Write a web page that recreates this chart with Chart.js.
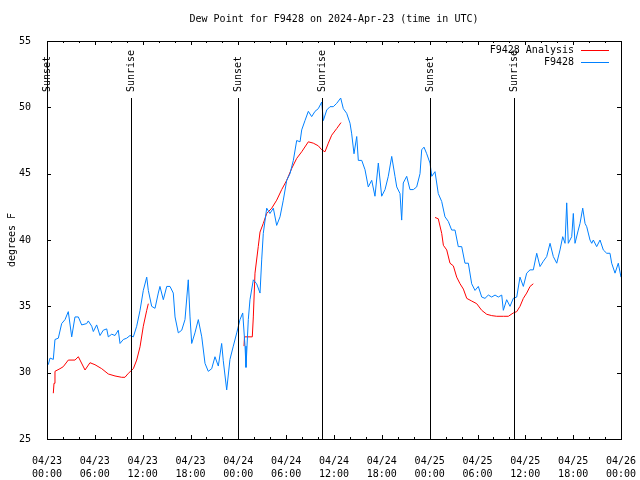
<!DOCTYPE html>
<html>
<head>
<meta charset="utf-8">
<title>Dew Point for F9428</title>
<script src="https://cdn.jsdelivr.net/npm/chart.js@4.4.1/dist/chart.umd.min.js"></script>
<style>
  html, body { margin: 0; padding: 0; background: #fff; }
  canvas { display: block; }
</style>
</head>
<body>
<canvas id="dewChart" width="640" height="480"></canvas>
<script>
// hours since 04/23 00:00 UTC
const obsHours = [
    0.16, 0.38, 0.79, 1.0, 1.42, 1.84, 2.26, 2.67, 3.1, 3.51,
    3.93, 4.35, 4.98, 5.18, 5.61, 5.81, 6.23, 6.65, 7.06, 7.49,
    7.69, 8.12, 8.53, 8.94, 9.16, 9.57, 10.0, 10.41, 10.83, 11.25,
    11.67, 12.08, 12.51, 12.71, 13.13, 13.55, 13.96, 14.17, 14.59, 15.02,
    15.43, 15.84, 16.06, 16.47, 16.9, 17.31, 17.72, 17.94, 18.15, 18.56,
    18.98, 19.41, 19.82, 20.23, 20.66, 21.07, 21.49, 21.91, 22.11, 22.54,
    22.95, 23.37, 23.8, 24.21, 24.55, 24.84, 24.96, 25.25, 25.46, 25.88,
    26.3, 26.72, 26.93, 27.13, 27.56, 27.97, 28.39, 28.81, 29.23, 29.64,
    30.07, 30.48, 30.9, 31.32, 31.74, 31.95, 32.36, 32.78, 33.2, 33.62,
    34.03, 34.46, 34.66, 35.09, 35.5, 35.91, 36.34, 36.84, 37.17, 37.59,
    38.01, 38.22, 38.51, 38.85, 39.05, 39.48, 39.89, 40.3, 40.73, 41.14,
    41.56, 41.98, 42.4, 42.81, 43.24, 43.65, 43.87, 44.28, 44.49, 44.69,
    45.12, 45.53, 45.95, 46.37, 46.79, 47.0, 47.29, 47.63, 48.04, 48.26,
    48.67, 49.08, 49.51, 49.92, 50.34, 50.76, 51.18, 51.59, 52.02, 52.43,
    52.85, 53.27, 53.69, 54.1, 54.53, 54.94, 55.36, 55.78, 56.2, 56.61,
    57.04, 57.24, 57.66, 58.08, 58.49, 58.92, 59.33, 59.75, 60.17, 60.59,
    61.0, 61.43, 61.84, 62.26, 62.68, 63.1, 63.51, 63.94, 64.35, 64.69,
    64.98, 65.19, 65.39, 65.82, 66.02, 66.23, 66.64, 66.86, 67.2, 67.49,
    67.7, 68.11, 68.33, 68.53, 68.95, 69.37, 69.78, 70.21, 70.62, 70.83,
    71.25, 71.66, 72.0
];
const obsDewpt = [
    30.6, 31.1, 31.0, 32.5, 32.6, 33.7, 34.0, 34.6, 32.7, 34.2,
    34.2, 33.6, 33.7, 33.9, 33.5, 33.1, 33.6, 32.8, 33.2, 33.3,
    32.7, 32.9, 32.8, 33.2, 32.2, 32.5, 32.6, 32.8, 32.7, 33.5,
    34.7, 36.2, 37.2, 36.2, 35.0, 34.85, 36.0, 36.5, 35.5, 36.5,
    36.5, 36.0, 34.2, 33.0, 33.2, 34.0, 37.0, 34.2, 32.2, 33.0,
    34.0, 32.7, 30.7, 30.1, 30.3, 31.2, 30.5, 32.2, 30.9, 28.7,
    31.0, 32.0, 33.0, 34.0, 34.5, 32.0, 30.4, 34.0, 35.5, 37.0,
    36.7, 36.0, 38.5, 40.5, 42.4, 42.0, 42.4, 41.1, 41.75, 43.0,
    44.5, 45.0, 46.0, 47.5, 47.4, 48.3, 49.0, 49.7, 49.3, 49.7,
    49.9, 50.4, 49.0, 49.8, 50.05, 50.05, 50.3, 50.7, 49.9, 49.55,
    48.8, 48.0, 46.5, 47.8, 46.0, 46.0, 45.3, 44.0, 44.5, 43.3,
    45.8, 43.3, 43.8, 44.8, 46.3, 44.8, 44.0, 43.5, 41.5, 44.3,
    44.8, 43.8, 43.8, 44.0, 45.0, 46.8, 47.0, 46.5, 45.8, 44.8,
    45.15, 43.5, 42.9, 41.75, 41.4, 40.75, 40.75, 39.5, 39.5, 38.25,
    38.25, 36.7, 36.2, 36.5, 35.7, 35.6, 35.85, 35.7, 35.85, 35.7,
    35.85, 34.7, 35.5, 35.0, 35.6, 35.7, 37.2, 36.5, 37.5, 37.75,
    37.75, 39.0, 38.0, 38.4, 38.75, 39.75, 38.75, 38.25, 39.25, 40.25,
    39.75, 42.8, 39.75, 40.25, 42.0, 39.75, 40.75, 41.25, 42.4, 41.25,
    41.0, 40.0, 39.75, 40.0, 39.5, 40.0, 39.25, 39.0, 39.0, 38.25,
    37.5, 38.25, 37.2
];

// analysis has gaps (null breaks the line)
const anaHours = [
    0.79, 0.88, 1.0, 1.63, 2.04, 2.67, 3.51, 3.93, 4.77, 5.39,
    6.02, 6.86, 7.69, 8.53, 9.37, 9.78, 10.2, 10.83, 11.25, 11.67,
    12.08, 12.51, 12.71,
    18,
    24.71, 24.77, 25.75, 25.88, 26.09, 26.5, 26.72, 27.13, 27.56, 28.19,
    28.81, 29.44, 30.07, 30.7, 31.32, 31.95, 32.78, 33.4, 34.03, 34.46,
    34.87, 35.29, 35.71, 36.34, 36.88,
    42,
    48.67, 49.08, 49.51, 49.72, 50.14, 50.55, 50.97, 51.39, 51.81, 52.23,
    52.65, 53.27, 53.9, 54.53, 55.16, 55.78, 56.41, 57.24, 57.87, 58.49,
    58.92, 59.33, 59.75, 60.17, 60.59, 61.0
];
const anaDewpt = [
    28.45, 29.2, 30.1, 30.3, 30.45, 30.95, 30.95, 31.2, 30.2, 30.75,
    30.6, 30.3, 29.9, 29.75, 29.65, 29.65, 29.95, 30.3, 30.95, 31.95,
    33.5, 34.7, 35.2,
    null,
    32.0, 32.7, 32.7, 34.2, 37.5, 39.5, 40.6, 41.25, 42.0, 42.4,
    43.0, 43.8, 44.5, 45.4, 46.15, 46.65, 47.4, 47.3, 47.1, 46.8,
    46.65, 47.3, 47.9, 48.4, 48.85,
    null,
    41.7, 41.6, 40.5, 39.6, 39.25, 38.25, 38.05, 37.2, 36.7, 36.3,
    35.6, 35.4, 35.2, 34.7, 34.4, 34.3, 34.25, 34.25, 34.25, 34.5,
    34.6, 35.0, 35.6, 36.0, 36.5, 36.7
];

const sunHours = [0, 10.58, 23.97, 34.52, 48.03, 58.55];
const sunLabels = ['Sunset', 'Sunrise', 'Sunset', 'Sunrise', 'Sunset', 'Sunrise'];

const tickDates = ['04/23', '04/23', '04/23', '04/23', '04/24', '04/24', '04/24',
                   '04/24', '04/25', '04/25', '04/25', '04/25', '04/26'];
const tickTimes = ['00:00', '06:00', '12:00', '18:00', '00:00', '06:00', '12:00',
                   '18:00', '00:00', '06:00', '12:00', '18:00', '00:00'];

const seriesNames = ['F9428 Analysis', 'F9428'];
const seriesColors = ['#ff0000', '#0080ff'];

const MONO = "'DejaVu Sans Mono', monospace";

function toPoints(xs, ys) {
    return xs.map((h, i) => ({ x: h, y: ys[i] }));
}

// gnuplot style frame: box, inward ticks, sun markers and legend
const gnuFrame = {
    id: 'gnuFrame',
    afterDatasetsDraw(chart) {
        const { ctx, chartArea: a, scales: { x, y } } = chart;
        const crisp = v => Math.round(v) + 0.5;
        ctx.save();
        ctx.strokeStyle = '#000';
        ctx.fillStyle = '#000';
        ctx.lineWidth = 1;

        const seg = (x1, y1, x2, y2) => {
            ctx.beginPath();
            ctx.moveTo(x1, y1);
            ctx.lineTo(x2, y2);
            ctx.stroke();
        };

        // sunrise / sunset lines
        ctx.font = '10px ' + MONO;
        sunHours.forEach((h, i) => {
            const px = crisp(x.getPixelForValue(h));
            seg(px, a.top + 57, px, a.bottom);
            ctx.save();
            ctx.translate(px, a.top + 51);
            ctx.rotate(-Math.PI / 2);
            ctx.textAlign = 'left';
            ctx.textBaseline = 'middle';
            ctx.fillText(sunLabels[i], 0, 0);
            ctx.restore();
        });

        // border
        ctx.strokeRect(crisp(a.left), crisp(a.top), Math.round(a.right - a.left), Math.round(a.bottom - a.top));

        // x ticks: major 6h, minor 2h
        for (let h = 0; h <= 72; h += 2) {
            const px = crisp(x.getPixelForValue(h));
            const len = h % 6 === 0 ? 4 : 2;
            seg(px, a.bottom, px, a.bottom - len);
            seg(px, a.top, px, a.top + len);
        }
        // y ticks
        for (let v = 25; v <= 55; v += 5) {
            const py = crisp(y.getPixelForValue(v));
            seg(a.left, py, a.left + 4, py);
            seg(a.right, py, a.right - 4, py);
        }

        // legend, top right inside the plot
        ctx.textAlign = 'right';
        ctx.textBaseline = 'middle';
        seriesNames.forEach((name, i) => {
            const ly = crisp(a.top + 9 + i * 12);
            ctx.fillStyle = '#000';
            ctx.fillText(name, a.right - 47, ly);
            ctx.strokeStyle = seriesColors[i];
            seg(a.right - 40, ly, a.right - 12, ly);
        });
        ctx.restore();
    }
};

document.addEventListener('DOMContentLoaded', () => {
    const ctx = document.getElementById('dewChart').getContext('2d');
    new Chart(ctx, {
        type: 'line',
        data: {
            datasets: [{
                label: seriesNames[0],
                data: toPoints(anaHours, anaDewpt),
                borderColor: seriesColors[0],
                borderWidth: 1,
                pointRadius: 0,
                spanGaps: false,
                order: 1
            }, {
                label: seriesNames[1],
                data: toPoints(obsHours, obsDewpt),
                borderColor: seriesColors[1],
                borderWidth: 1,
                pointRadius: 0,
                order: 0
            }]
        },
        options: {
            responsive: false,
            animation: false,
            layout: { padding: { left: 0, right: 19, top: 0, bottom: 0 } },
            plugins: {
                legend: { display: false },
                tooltip: { enabled: false },
                title: {
                    display: true,
                    text: 'Dew Point for F9428 on 2024-Apr-23 (time in UTC)',
                    color: '#000',
                    fullSize: false,
                    font: { family: MONO, size: 10, weight: 'normal', lineHeight: 1.2 },
                    padding: { top: 13, bottom: 16 }
                }
            },
            scales: {
                x: {
                    type: 'linear',
                    min: 0,
                    max: 72,
                    grid: { display: false },
                    border: { display: false },
                    ticks: {
                        stepSize: 6,
                        autoSkip: false,
                        maxRotation: 0,
                        padding: 8,
                        color: '#000',
                        font: { family: MONO, size: 10, lineHeight: 1.3 },
                        callback: v => {
                            const i = Math.round(v / 6);
                            return [tickDates[i], tickTimes[i]];
                        }
                    },
                    afterFit: s => {
                        s.height = 41;
                        s.paddingLeft = 0;
                        s.paddingRight = 0;
                    }
                },
                y: {
                    min: 25,
                    max: 55,
                    grid: { display: false },
                    border: { display: false },
                    ticks: {
                        stepSize: 5,
                        padding: 8,
                        color: '#000',
                        font: { family: MONO, size: 10 }
                    },
                    title: {
                        display: true,
                        text: 'degrees F',
                        color: '#000',
                        font: { family: MONO, size: 10 },
                        padding: { top: 6, bottom: 0 }
                    },
                    afterFit: s => { s.width = 47; }
                }
            }
        },
        plugins: [gnuFrame]
    });
});
</script>
</body>
</html>
